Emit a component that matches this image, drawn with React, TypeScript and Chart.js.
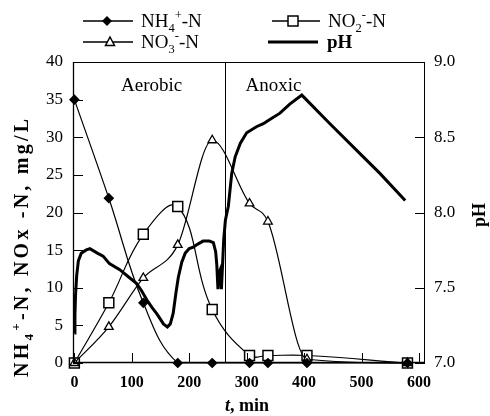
import React, { useEffect, useRef } from "react";
import { Chart, registerables } from "chart.js";

Chart.register(...registerables);

const FONT = "'Liberation Serif', 'Times New Roman', Times, serif";

// sampling times (min) and concentrations (mg/L)
const sampleTimes = [0, 60, 120, 180, 240, 305, 337, 405, 580];
const nh4Values = [35.0, 21.9, 8.0, 0, 0, 0, 0, 0, 0];
const no2Values = [0, 8.0, 17.1, 20.8, 7.1, 1.0, 1.0, 1.0, 0];
const no3Values = [0, 4.8, 11.3, 15.7, 29.6, 21.2, 18.8, 0.5, 0];

// online pH record
const phTimes = [
  0, 1, 2, 4, 7, 12, 20, 27, 40, 50, 61, 79, 95, 108, 117, 126, 135, 143, 150, 155,
  162, 167, 172, 177, 181, 187, 193, 200, 207, 215, 224, 235, 242, 246, 248, 250,
  252, 254, 256, 258, 260, 263, 268, 274, 280, 289, 300, 317, 329, 341, 358, 375,
  396, 445, 503, 532, 576,
];
const phValues = [
  7.2, 7.32, 7.45, 7.58, 7.68, 7.73, 7.75, 7.76, 7.73, 7.71, 7.66, 7.62, 7.57, 7.53,
  7.48, 7.42, 7.37, 7.33, 7.29, 7.26, 7.24, 7.26, 7.33, 7.47, 7.57, 7.67, 7.73, 7.76,
  7.77, 7.79, 7.81, 7.81, 7.8, 7.74, 7.65, 7.49, 7.6, 7.62, 7.49, 7.65, 7.82, 7.95,
  8.04, 8.26, 8.37, 8.46, 8.53, 8.57, 8.59, 8.62, 8.66, 8.72, 8.78, 8.59, 8.37, 8.26,
  8.08,
];

const xTicks = [0, 100, 200, 300, 400, 500, 600];
const nTicks = [0, 5, 10, 15, 20, 25, 30, 35, 40];
const phTicks = [7.0, 7.5, 8.0, 8.5, 9.0];
const switchTime = 263;
const phaseNames = ["Aerobic", "Anoxic"];
const phaseCenters = [134.6, 346.7];

type Seg = { t: string; s?: "sub" | "sup"; i?: boolean };

const legendNH4: Seg[] = [{ t: "NH" }, { t: "4", s: "sub" }, { t: "+", s: "sup" }, { t: "-N" }];
const legendNO2: Seg[] = [{ t: "NO" }, { t: "2", s: "sub" }, { t: "-", s: "sup" }, { t: "-N" }];
const legendNO3: Seg[] = [{ t: "NO" }, { t: "3", s: "sub" }, { t: "-", s: "sup" }, { t: "-N" }];
const legendPH: Seg[] = [{ t: "pH" }];
const yTitle: Seg[] = [
  { t: "NH" }, { t: "4", s: "sub" }, { t: "+", s: "sup" }, { t: "-N, NOx -N, mg/L" },
];
const xTitle: Seg[] = [{ t: "t", i: true }, { t: ", min" }];
const y2Title: Seg[] = [{ t: "pH" }];

function layoutRich(ctx: CanvasRenderingContext2D, segs: Seg[], size: number, weight: string, spacing: number) {
  let w = 0;
  const items: { ch: string; font: string; dx: number; dy: number }[] = [];
  for (const seg of segs) {
    const fs = seg.s ? size * 0.66 : size;
    const font = `${seg.i ? "italic " : ""}${weight} ${fs}px ${FONT}`;
    ctx.font = font;
    for (const ch of seg.t) {
      const cw = ctx.measureText(ch).width;
      items.push({ ch, font, dx: w, dy: seg.s === "sub" ? size * 0.25 : seg.s === "sup" ? -size * 0.4 : 0 });
      w += cw + spacing;
    }
  }
  return { items, width: w - spacing };
}

function drawRich(
  ctx: CanvasRenderingContext2D, segs: Seg[], x: number, y: number, size: number,
  weight: string, opts: { align?: "left" | "center"; rotate?: number; spacing?: number; targetWidth?: number } = {}
) {
  let spacing = opts.spacing ?? 0;
  let lay = layoutRich(ctx, segs, size, weight, spacing);
  if (opts.targetWidth) {
    const n = lay.items.length - 1;
    spacing = Math.max(0, (opts.targetWidth - layoutRich(ctx, segs, size, weight, 0).width) / n);
    lay = layoutRich(ctx, segs, size, weight, spacing);
  }
  ctx.save();
  ctx.translate(x, y);
  if (opts.rotate) ctx.rotate(opts.rotate);
  const start = opts.align === "center" ? -lay.width / 2 : 0;
  ctx.fillStyle = "#000";
  ctx.textBaseline = "alphabetic";
  ctx.textAlign = "left";
  for (const it of lay.items) {
    ctx.font = it.font;
    ctx.fillText(it.ch, start + it.dx, it.dy);
  }
  ctx.restore();
}

const decor = {
  id: "decor",
  beforeDatasetsDraw(chart: any) {
    const { ctx, chartArea: a, scales } = chart;
    const xv = Math.round(scales.x.getPixelForValue(switchTime)) + 0.5;
    ctx.save();
    ctx.strokeStyle = "#000";
    ctx.lineWidth = 1;
    ctx.beginPath();
    ctx.moveTo(xv, a.top);
    ctx.lineTo(xv, a.bottom);
    ctx.stroke();
    ctx.restore();
  },
  afterDraw(chart: any) {
    const { ctx, chartArea: a, scales } = chart;
    ctx.save();
    // frame
    ctx.strokeStyle = "#000";
    ctx.lineWidth = 1;
    ctx.strokeRect(Math.round(a.left) + 0.5, Math.round(a.top) + 0.5, Math.round(a.right - a.left) - 1, Math.round(a.bottom - a.top) - 1);
    ctx.lineWidth = 1.3;
    ctx.beginPath();
    ctx.moveTo(a.left + 0.5, a.top);
    ctx.lineTo(a.left + 0.5, a.bottom);
    ctx.moveTo(a.left, a.bottom - 0.5);
    ctx.lineTo(a.right, a.bottom - 0.5);
    ctx.stroke();
    // inner tick marks
    ctx.lineWidth = 1;
    const tl = 10;
    ctx.beginPath();
    for (const t of scales.y.ticks) {
      const py = Math.round(scales.y.getPixelForValue(t.value)) + 0.5;
      ctx.moveTo(a.left, py);
      ctx.lineTo(a.left + tl, py);
    }
    for (const t of scales.yPH.ticks) {
      const py = Math.round(scales.yPH.getPixelForValue(t.value)) + 0.5;
      ctx.moveTo(a.right, py);
      ctx.lineTo(a.right - tl, py);
    }
    for (const t of scales.x.ticks) {
      const px = Math.round(scales.x.getPixelForValue(t.value)) + 0.5;
      ctx.moveTo(px, a.bottom);
      ctx.lineTo(px, a.bottom - tl);
    }
    ctx.stroke();

    // phase labels
    ctx.font = `19px ${FONT}`;
    ctx.fillStyle = "#000";
    ctx.textAlign = "center";
    ctx.textBaseline = "middle";
    phaseNames.forEach((n, i) => {
      ctx.fillText(n, scales.x.getPixelForValue(phaseCenters[i]), a.top + 24);
    });

    // legend
    const r1 = 21;
    const r2 = 42;
    const ls = 19;
    ctx.strokeStyle = "#000";
    ctx.lineWidth = 1.3;
    ctx.beginPath();
    ctx.moveTo(83, r1); ctx.lineTo(133, r1);
    ctx.moveTo(272, r1); ctx.lineTo(320, r1);
    ctx.moveTo(83, r2); ctx.lineTo(133, r2);
    ctx.stroke();
    ctx.lineWidth = 3;
    ctx.beginPath();
    ctx.moveTo(268, r2); ctx.lineTo(318, r2);
    ctx.stroke();
    // diamond
    ctx.fillStyle = "#000";
    ctx.beginPath();
    ctx.moveTo(107 - 5, r1); ctx.lineTo(107, r1 - 5); ctx.lineTo(107 + 5, r1); ctx.lineTo(107, r1 + 5);
    ctx.closePath(); ctx.fill();
    // square
    ctx.fillStyle = "#fff";
    ctx.lineWidth = 1.5;
    ctx.fillRect(288, r1 - 5, 10, 10);
    ctx.strokeRect(288, r1 - 5, 10, 10);
    // triangle
    ctx.beginPath();
    ctx.moveTo(110, r2 - 5); ctx.lineTo(114.5, r2 + 3.5); ctx.lineTo(105.5, r2 + 3.5); ctx.closePath();
    ctx.fill(); ctx.stroke();
    drawRich(ctx, legendNH4, 141, r1 + 6, ls, "normal");
    drawRich(ctx, legendNO2, 328, r1 + 6, ls, "normal");
    drawRich(ctx, legendNO3, 141, r2 + 6, ls, "normal");
    drawRich(ctx, legendPH, 327, r2 + 6, ls, "bold");

    // axis titles
    drawRich(ctx, yTitle, 28, 248, 20, "bold", { align: "center", rotate: -Math.PI / 2, targetWidth: 258 });
    drawRich(ctx, y2Title, 485, 215, 18, "bold", { align: "center", rotate: -Math.PI / 2 });
    drawRich(ctx, xTitle, 247, 411, 18, "bold", { align: "center" });
    ctx.restore();
  },
};

export default function App() {
  const ref = useRef<HTMLCanvasElement | null>(null);
  useEffect(() => {
    document.body.style.margin = "0";
    const canvas = ref.current!;
    const pts = (vals: number[]) => sampleTimes.map((t, i) => ({ x: t, y: vals[i] }));
    const chart = new Chart(canvas, {
      type: "line",
      data: {
        datasets: [
          {
            label: "NH4+-N",
            data: pts(nh4Values),
            yAxisID: "y",
            borderColor: "#000",
            borderWidth: 1.2,
            pointStyle: "rectRot",
            pointRadius: 4.5,
            pointBackgroundColor: "#000",
            pointBorderColor: "#000",
            tension: 0.4,
            clip: false as any,
            order: 1,
          },
          {
            label: "NO3--N",
            data: pts(no3Values),
            yAxisID: "y",
            borderColor: "#000",
            borderWidth: 1.2,
            pointStyle: "triangle",
            pointRadius: 5,
            pointBorderWidth: 1.3,
            pointBackgroundColor: "#fff",
            pointBorderColor: "#000",
            cubicInterpolationMode: "monotone",
            clip: false as any,
            order: 2,
          },
          {
            label: "NO2--N",
            data: pts(no2Values),
            yAxisID: "y",
            borderColor: "#000",
            borderWidth: 1.2,
            pointStyle: "rect",
            pointRadius: 7,
            pointBorderWidth: 1.5,
            pointBackgroundColor: "#fff",
            pointBorderColor: "#000",
            tension: 0.4,
            clip: false as any,
            order: 3,
          },
          {
            label: "pH",
            data: phTimes.map((t, i) => ({ x: t, y: phValues[i] })),
            yAxisID: "yPH",
            borderColor: "#000",
            borderWidth: 3,
            pointRadius: 0,
            tension: 0,
            clip: false as any,
            order: 10,
          },
        ],
      },
      options: {
        animation: false,
        responsive: false,
        maintainAspectRatio: false,
        layout: { padding: { top: 62, left: 0, right: 0, bottom: 0 } },
        plugins: { legend: { display: false }, tooltip: { enabled: false }, title: { display: false } },
        scales: {
          x: {
            type: "linear",
            min: -2.4,
            max: 610.5,
            afterBuildTicks: (s: any) => { s.ticks = xTicks.map((v) => ({ value: v })); },
            afterFit: (s: any) => { s.height = 53; },
            grid: { display: false, drawTicks: false },
            border: { display: false },
            ticks: { padding: 10, color: "#000", maxRotation: 0, autoSkip: false, font: { family: FONT, size: 16, weight: "bold" } },
          },
          y: {
            position: "left",
            min: 0,
            max: 40,
            afterBuildTicks: (s: any) => { s.ticks = nTicks.map((v) => ({ value: v })); },
            afterFit: (s: any) => { s.width = 73; },
            grid: { display: false, drawTicks: false },
            border: { display: false },
            ticks: { padding: 10, color: "#000", font: { family: FONT, size: 17 } },
          },
          yPH: {
            position: "right",
            min: 7,
            max: 9,
            afterBuildTicks: (s: any) => { s.ticks = phTicks.map((v) => ({ value: v })); },
            afterFit: (s: any) => { s.width = 65; },
            grid: { display: false, drawTicks: false },
            border: { display: false },
            ticks: { padding: 9, color: "#000", font: { family: FONT, size: 17 }, callback: (v: any) => Number(v).toFixed(1) },
          },
        },
      } as any,
      plugins: [decor],
    });
    return () => chart.destroy();
  }, []);
  return <canvas ref={ref} width={490} height={416} style={{ display: "block", width: 490, height: 416 }} />;
}
